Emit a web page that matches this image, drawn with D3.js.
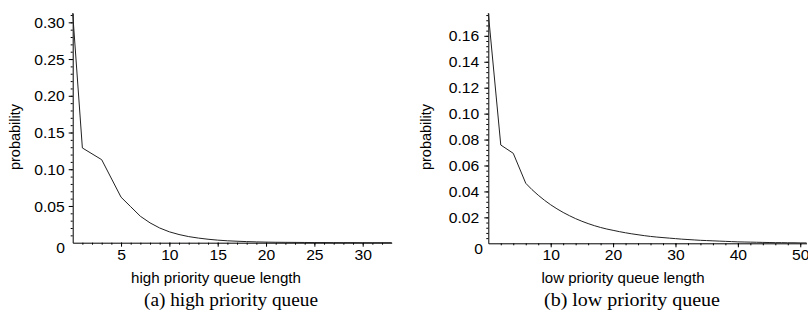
<!DOCTYPE html>
<html><head><meta charset="utf-8">
<script src="https://cdn.jsdelivr.net/npm/d3@7"></script>
<style>
body{margin:0;background:#fff;}
svg{display:block;}
</style></head>
<body>
<svg id="chart" width="808" height="321"></svg>
<script>
// ---- data ----
const highX = [0,1,3,5,6,7,8,9,10,11,12,13,14,15,16,17,18,19,20,21,22,23,24,25,26,27,28,29,30,31,32,33];
const highP = [0.3125,0.129,0.113,0.062,0.049,0.036,0.027,0.020,0.0148,0.0111,0.0083,0.0063,0.0047,0.0035,0.0026,0.0020,0.0015,0.0011,0.0008,0.0006,0.0005,0.0004,0.0003,0.0002,0.0002,0.0001,0.0001,0.0001,0.0000,0.0000,0.0000,0.0000];
const lowX = [0,2,4,6,7,8,9,10,11,12,13,14,15,16,17,18,19,20,21,22,23,24,25,26,27,28,29,30,31,32,33,34,35,36,37,38,39,40,41,42,43,44,45,46,47,48,49,50,51];
const lowP = [0.1775,0.0758,0.0694,0.0463,0.0414,0.0371,0.0332,0.0297,0.0266,0.0238,0.0213,0.0190,0.0170,0.0152,0.0136,0.0122,0.0110,0.0100,0.0090,0.0081,0.0073,0.0066,0.0059,0.0053,0.0048,0.0044,0.0040,0.0036,0.0032,0.0029,0.0026,0.0023,0.0021,0.0019,0.0017,0.0015,0.0013,0.0011,0.0010,0.0009,0.0008,0.0007,0.0006,0.0005,0.0005,0.0004,0.0004,0.0003,0.0003];
const highXTicks = [5,10,15,20,25,30];
const highYTicks = [0.05,0.10,0.15,0.20,0.25,0.30];
const lowXTicks = [10,20,30,40,50];
const lowYTicks = [0.02,0.04,0.06,0.08,0.10,0.12,0.14,0.16];
const xTitles = ["high priority queue length","low priority queue length"];
const captions = ["(a) high priority queue","(b) low priority queue"];
const yTitle = "probability";

const svg = d3.select("#chart");
const SANS = "'Liberation Sans', Arial, Helvetica, sans-serif";
const SERIF = "'Liberation Serif', 'Times New Roman', serif";
const TICKFS = 14;

function stretch(sel, f){
  sel.each(function(){
    const w = this.getComputedTextLength();
    d3.select(this).attr("textLength", w*f).attr("lengthAdjust","spacingAndGlyphs");
  });
}

function panel(cfg){
  const g = svg.append("g");
  const x = d3.scaleLinear().domain(cfg.xDom).range([cfg.x0, cfg.x1]);
  const y = d3.scaleLinear().domain(cfg.yDom).range([cfg.y0, cfg.y1]);

  // minor ticks
  const yMinor = d3.range(cfg.yMinorStep, cfg.yDom[1], cfg.yMinorStep);
  g.append("g").attr("transform",`translate(${cfg.x0},0)`)
    .call(d3.axisLeft(y).tickValues(yMinor).tickSize(2).tickFormat(""))
    .call(a=>a.select(".domain").remove())
    .call(a=>a.selectAll("line").attr("stroke","#000"));
  const xMinor = d3.range(cfg.xMinorStep, cfg.xDom[1], cfg.xMinorStep);
  g.append("g").attr("transform",`translate(0,${cfg.y0})`)
    .call(d3.axisBottom(x).tickValues(xMinor).tickSize(2).tickFormat(""))
    .call(a=>a.select(".domain").remove())
    .call(a=>a.selectAll("line").attr("stroke","#000"));

  // major y axis
  const ya = g.append("g").attr("transform",`translate(${cfg.x0},0)`)
    .call(d3.axisLeft(y).tickValues(cfg.yTicks).tickSize(4).tickPadding(cfg.yPad).tickSizeOuter(0).tickFormat(d3.format(cfg.yFmt)));
  ya.select(".domain").attr("stroke","#000");
  ya.selectAll("text").attr("font-family",SANS).attr("font-size",TICKFS).attr("fill","#000").attr("dy","0.36em");
  // major x axis
  const xa = g.append("g").attr("transform",`translate(0,${cfg.y0})`)
    .call(d3.axisBottom(x).tickValues(cfg.xTicks).tickSize(4).tickPadding(3).tickSizeOuter(0));
  xa.select(".domain").attr("stroke","#000");
  xa.selectAll("text").attr("font-family",SANS).attr("font-size",TICKFS).attr("fill","#000");
  stretch(ya.selectAll("text"),1.12);
  stretch(xa.selectAll("text"),1.12);

  // origin label
  const ot = g.append("text").attr("x",cfg.x0+cfg.zeroDx).attr("y",cfg.y0+10.5)
    .attr("text-anchor","end").attr("font-family",SANS).attr("font-size",TICKFS).text("0");
  stretch(ot,1.12);

  // line
  const line = d3.line().x((d,i)=>x(cfg.xs[i])).y(d=>y(d));
  g.append("path").datum(cfg.ps).attr("d",line)
    .attr("fill","none").attr("stroke","#222").attr("stroke-width",1);

  // y title
  g.append("text").attr("transform",`translate(${cfg.ytX},${cfg.ytY}) rotate(-90)`)
    .attr("text-anchor","middle").attr("font-family",SANS).attr("font-size",14.5).text(yTitle)
    .attr("textLength",66).attr("lengthAdjust","spacingAndGlyphs");
  // x title
  g.append("text").attr("x",cfg.xtX).attr("y",cfg.xtY).attr("text-anchor","middle")
    .attr("font-family",SANS).attr("font-size",14).text(cfg.xTitle)
    .attr("textLength",cfg.xtW).attr("lengthAdjust","spacingAndGlyphs");
  // caption
  g.append("text").attr("x",cfg.capX).attr("y",cfg.capY).attr("text-anchor","middle")
    .attr("font-family",SERIF).attr("font-size",19.5).text(cfg.cap)
    .attr("textLength",cfg.capW).attr("lengthAdjust","spacingAndGlyphs");
}

panel({xDom:[0,33], yDom:[0,0.3127], x0:72.7, x1:391.7, y0:242.7, y1:13,
  xs:highX, ps:highP, xTicks:highXTicks, yTicks:highYTicks, yFmt:".2f",
  xMinorStep:1, yMinorStep:0.01, yPad:4, zeroDx:-7.7,
  ytX:20, ytY:137, xtX:216, xtY:283, xtW:170, xTitle:xTitles[0],
  capX:231, capY:306, capW:174, cap:captions[0]});

panel({xDom:[0,51], yDom:[0,0.1776], x0:488.3, x1:806.5, y0:243.3, y1:13,
  xs:lowX, ps:lowP, xTicks:lowXTicks, yTicks:lowYTicks, yFmt:".2f",
  xMinorStep:2, yMinorStep:0.004, yPad:5, zeroDx:-5.3,
  ytX:431, ytY:137, xtX:623, xtY:283, xtW:163, xTitle:xTitles[1],
  capX:632, capY:306, capW:176, cap:captions[1]});
</script>
</body></html>
